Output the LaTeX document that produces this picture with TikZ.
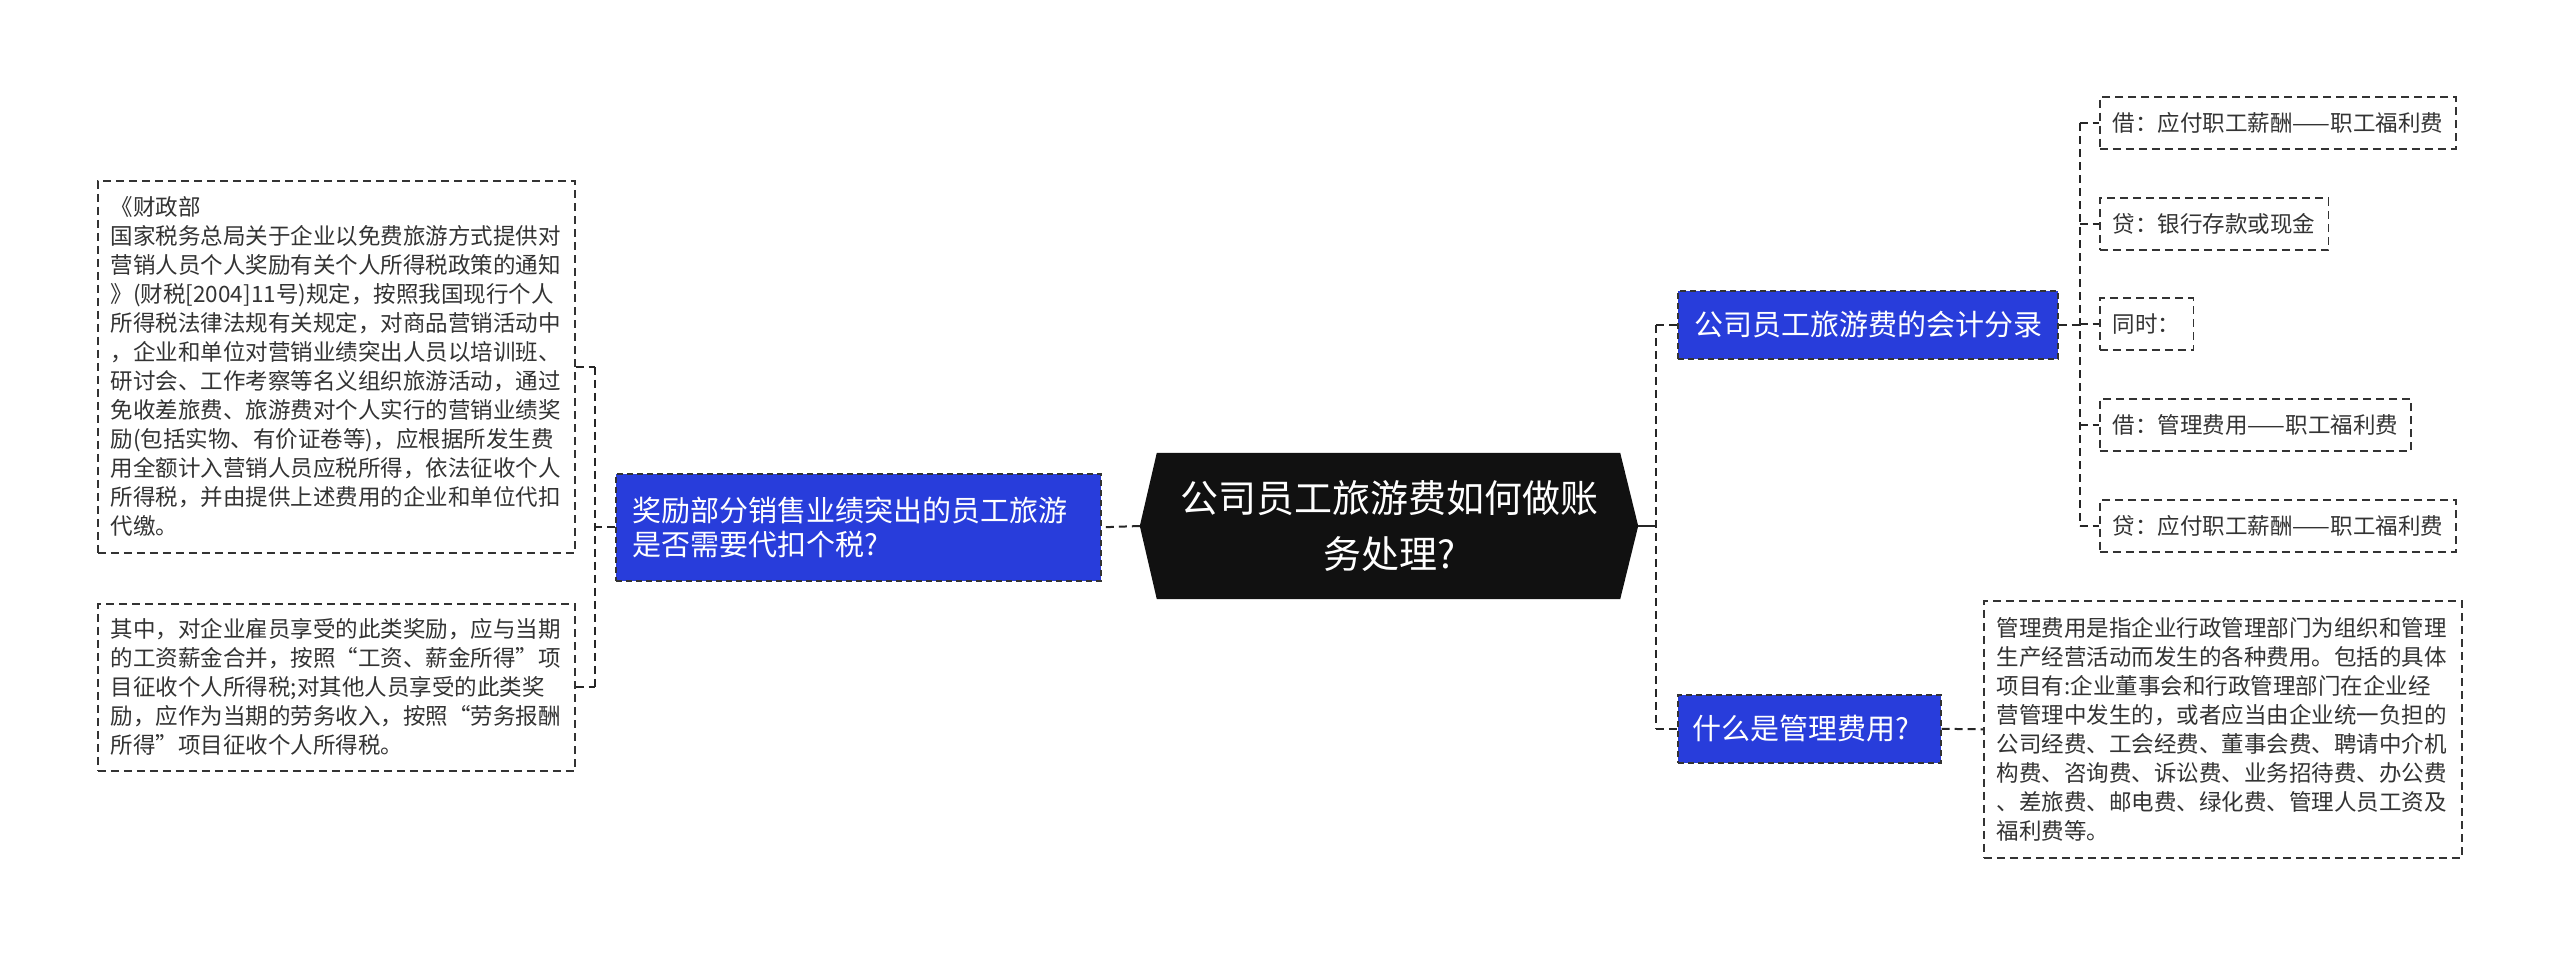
\documentclass[tikz,border=0pt]{standalone}
\usepackage{fontspec}
\setmainfont{Noto Sans CJK SC}
\usetikzlibrary{calc,backgrounds}
\definecolor{nodeblue}{RGB}{40,61,219}
\definecolor{txt}{RGB}{51,51,51}
\definecolor{rootfill}{RGB}{17,17,17}
\begin{document}
\begin{tikzpicture}[x=1pt,y=-1pt,
 conn/.style={line width=2pt, draw=black!85, dash pattern=on 8pt off 5pt},
 leafbox/.style={draw=txt, line width=1.6pt, dash pattern=on 8pt off 5pt, text=txt,
   font=\fontsize{22.5}{29}\selectfont, inner xsep=13pt, inner ysep=0pt,
   minimum height=52pt, anchor=west, align=left},
 notebox/.style={draw=txt, line width=1.6pt, dash pattern=on 8pt off 5pt, text=txt,
   font=\fontsize{22.5}{29}\selectfont, inner xsep=13pt, inner ysep=0pt,
   anchor=north west, align=left, text width=451pt},
 bluebox/.style={fill=nodeblue, draw=black!80, line width=1.6pt, dash pattern=on 6pt off 4pt,
   text=white, font=\fontsize{29}{34}\selectfont, inner ysep=0pt, anchor=north west, align=left},
 rootbox/.style={minimum width=498pt, minimum height=146pt, inner sep=0pt, text=white,
   font=\fontsize{38}{56}\selectfont, align=center}
]
\begin{pgfonlayer}{background}
\fill[white] (0,0) rectangle (2560,954);
\end{pgfonlayer}
\useasboundingbox (0,0) rectangle (2560,954);

% root
\node[rootbox] (root) at (1389,526) {公司员工旅游费如何做账\\务处理?};
\begin{pgfonlayer}{background}
\fill[rootfill] (root.west) -- ($(root.north west)+(17,0)$) -- ($(root.north east)+(-18,0)$)
  -- (root.east) -- ($(root.south east)+(-18,0)$) -- ($(root.south west)+(17,0)$) -- cycle;
\end{pgfonlayer}

% left branch
\node[bluebox, minimum width=485pt, minimum height=107pt, text width=451pt, inner xsep=17pt] (q1) at (615,473)
  {奖励部分销售业绩突出的员工旅游\\是否需要代扣个税?};
\node[notebox, minimum height=372pt] (n1) at (97,180) {《财政部\\
国家税务总局关于企业以免费旅游方式提供对\\
营销人员个人奖励有关个人所得税政策的通知\\
》(财税[2004]11号)规定，按照我国现行个人\\
所得税法律法规有关规定，对商品营销活动中\\
，企业和单位对营销业绩突出人员以培训班、\\
研讨会、工作考察等名义组织旅游活动，通过\\
免收差旅费、旅游费对个人实行的营销业绩奖\\
励(包括实物、有价证卷等)，应根据所发生费\\
用全额计入营销人员应税所得，依法征收个人\\
所得税，并由提供上述费用的企业和单位代扣\\
代缴。};
\node[notebox, minimum height=167pt] (n2) at (97,603) {其中，对企业雇员享受的此类奖励，应与当期\\
的工资薪金合并，按照“工资、薪金所得”项\\
目征收个人所得税;对其他人员享受的此类奖\\
励，应作为当期的劳务收入，按照“劳务报酬\\
所得”项目征收个人所得税。};

% right branch
\node[bluebox, minimum width=380pt, minimum height=68pt, text width=346pt, inner xsep=17pt] (qa) at (1677,290)
  {公司员工旅游费的会计分录};
\node[bluebox, minimum width=263pt, minimum height=68pt, text width=233pt, inner xsep=15pt] (qb) at (1677,694)
  {什么是管理费用?};

\node[leafbox] (l1) at (2099,123) {借：应付职工薪酬——职工福利费};
\node[leafbox] (l2) at (2099,224) {贷：银行存款或现金};
\node[leafbox] (l3) at (2099,324) {同时：};
\node[leafbox] (l4) at (2099,425) {借：管理费用——职工福利费};
\node[leafbox] (l5) at (2099,526) {贷：应付职工薪酬——职工福利费};

\node[notebox, minimum height=257pt, text width=452pt] (nr) at (1983,600) {管理费用是指企业行政管理部门为组织和管理\\
生产经营活动而发生的各种费用。包括的具体\\
项目有:企业董事会和行政管理部门在企业经\\
营管理中发生的，或者应当由企业统一负担的\\
公司经费、工会经费、董事会费、聘请中介机\\
构费、咨询费、诉讼费、业务招待费、办公费\\
、差旅费、邮电费、绿化费、管理人员工资及\\
福利费等。};

% connectors left
\draw[conn] (root.west) -- (q1.east);
\draw[conn] (q1.west) -- ++(-20,0) coordinate (jl);
\draw[conn] (jl |- n1.east) -- (jl |- n2.east);
\draw[conn] (n1.east) -- (jl |- n1.east);
\draw[conn] (n2.east) -- (jl |- n2.east);

% connectors right
\draw[line width=2pt, draw=black!85] (root.east) -- ++(18,0) coordinate (jr);
\draw[conn] (jr |- qa.west) -- (jr |- qb.west);
\draw[conn] (jr |- qa.west) -- (qa.west);
\draw[conn] (jr |- qb.west) -- (qb.west);
\draw[conn] (qa.east) -- ++(21,0) coordinate (ja);
\draw[conn] (ja |- l1.west) -- (ja |- l5.west);
\foreach \l in {l1,l2,l3,l4,l5} {\draw[conn] (ja |- \l.west) -- (\l.west);}
\draw[conn] (qb.east) -- (nr.west);
\end{tikzpicture}
\end{document}
